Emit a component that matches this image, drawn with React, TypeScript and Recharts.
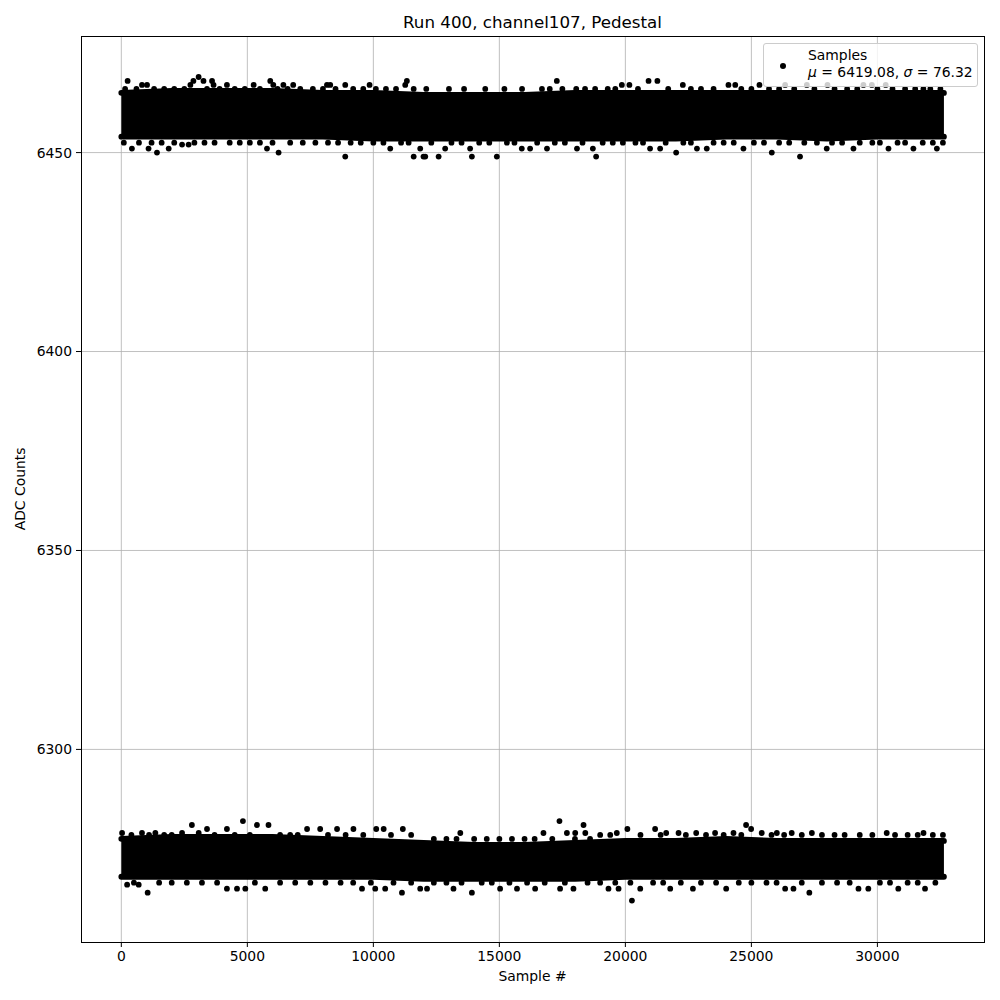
import { ComposedChart, Area, Scatter, XAxis, YAxis, CartesianGrid } from 'recharts';

// band extents, per 2000 samples
const binX = [0, 2000, 4000, 6000, 8000, 10000, 12000, 14000, 16000, 18000, 20000, 22000, 24000, 26000, 28000, 30000, 32000, 32640];
const upperHi = [6465, 6465.5, 6465.5, 6465.5, 6465, 6465, 6464.5, 6464.5, 6464.5, 6465, 6465, 6465, 6465, 6465, 6465, 6465, 6465, 6465];
const upperLo = [6454, 6454, 6454, 6454, 6454, 6453.5, 6453.5, 6453.5, 6453.5, 6453.5, 6453.5, 6453.5, 6454, 6454, 6453.5, 6454, 6454, 6454];
const lowerHi = [6277.5, 6278, 6278, 6278, 6277.5, 6277, 6276.5, 6276, 6276, 6276.5, 6277, 6277, 6277.5, 6277, 6277, 6277, 6277, 6277];
const lowerLo = [6268, 6268, 6268, 6268, 6268, 6268, 6267.5, 6267.5, 6267.5, 6267.5, 6268, 6268, 6268, 6268, 6268, 6268, 6268, 6268];

// isolated samples outside the dense bands
const upperStrays = [
  [250, 6468], [820, 6467], [1020, 6467], [2740, 6467], [2860, 6468], [3067, 6469], [3260, 6468], [3600, 6468],
  [3660, 6467], [4190, 6467], [5250, 6467], [5910, 6468], [6030, 6467], [6430, 6467], [6820, 6467], [8160, 6467],
  [8290, 6467], [8885, 6467], [9850, 6467], [11265, 6467], [11330, 6468], [14440, 6466], [16690, 6466], [17280, 6468],
  [18050, 6466], [19860, 6467], [20160, 6467], [20920, 6468], [21270, 6468], [22280, 6467], [24090, 6467], [24360, 6467],
  [25320, 6467], [26340, 6467], [27200, 6467], [28020, 6467], [29445, 6467], [29780, 6467], [30330, 6467], [31825, 6466],
  [420, 6451], [1080, 6451], [1415, 6450], [1880, 6451], [2410, 6452], [2670, 6452], [5780, 6451], [6240, 6450],
  [8885, 6449], [10670, 6451], [11600, 6449], [11860, 6451], [11990, 6449], [12060, 6449], [12590, 6449], [12850, 6451],
  [13840, 6451], [13910, 6449], [14900, 6449], [15890, 6451], [16220, 6451], [16890, 6451], [18080, 6451], [18710, 6451],
  [18840, 6449], [20980, 6451], [21380, 6451], [22015, 6450], [22840, 6451], [23230, 6451], [24685, 6451], [25810, 6450],
  [26930, 6449], [27990, 6451], [29050, 6451], [30440, 6451], [31430, 6451], [32360, 6451],
];
const lowerStrays = [
  [30, 6279], [820, 6279], [1350, 6279], [2410, 6279], [2800, 6281], [3070, 6279], [3400, 6280], [4190, 6280],
  [4825, 6282], [5380, 6281], [5840, 6281], [7370, 6280], [7890, 6280], [8560, 6280], [9210, 6280], [10115, 6280],
  [10410, 6280], [11170, 6280], [13450, 6279], [16750, 6279], [17385, 6282], [17680, 6279], [18010, 6279], [18340, 6281],
  [18410, 6279], [19660, 6279], [20080, 6280], [21180, 6280], [21620, 6279], [22110, 6279], [22810, 6279], [23560, 6279],
  [24290, 6279], [24790, 6281], [24990, 6280], [25410, 6279], [26010, 6279], [26600, 6279], [27400, 6279], [30370, 6279],
  [31830, 6279],
  [230, 6266], [690, 6266], [1045, 6264], [4190, 6265], [4590, 6265], [4920, 6265], [5710, 6265], [9550, 6265],
  [10075, 6265], [10470, 6265], [11135, 6264], [11860, 6265], [12130, 6265], [13180, 6265], [13910, 6264], [15030, 6265],
  [15700, 6265], [16420, 6265], [17410, 6265], [17940, 6265], [19330, 6265], [19730, 6265], [20260, 6262], [20590, 6265],
  [21780, 6265], [22680, 6265], [24000, 6265], [26340, 6265], [26670, 6265], [27300, 6264], [29250, 6265], [29640, 6265],
  [30830, 6265], [31890, 6265],
];

// samples sitting one count outside the solid part of each band (ragged edges)
const upperTopEdge = [150, 600, 1300, 1700, 2100, 2500, 3400, 3900, 4500, 4900, 5500, 6200, 6600, 7100, 7600, 8000, 8500, 9200, 9600, 10100, 10500, 10900, 11600, 12100, 13000, 13600, 15200, 15900, 17000, 17500, 18400, 18800, 19300, 19600, 20500, 21700, 22600, 23000, 23500, 24600, 25000, 25700, 26100, 26700, 27500, 28300, 28800, 29200, 30000, 30600, 31100, 31500, 32100, 32500];
const upperBottomEdge = [100, 700, 1200, 1600, 2100, 2900, 3300, 3700, 4300, 4700, 5100, 5500, 6000, 6700, 7200, 7700, 8200, 8600, 9100, 9500, 10000, 10400, 11100, 11400, 12300, 13100, 13500, 14200, 14600, 15300, 15600, 16500, 17200, 17600, 18300, 19100, 19500, 19900, 20400, 20700, 21600, 22300, 22600, 23500, 23900, 24300, 25100, 25500, 26100, 26500, 27100, 27600, 28200, 28600, 29300, 29800, 30100, 30800, 31100, 31800, 32200, 32600];
const lowerTopEdge = [400, 1100, 1700, 2000, 3700, 4500, 5100, 6300, 6700, 7000, 8200, 8900, 9600, 10700, 11500, 19000, 19400, 20600, 21400, 22400, 23200, 23900, 24600, 25800, 26300, 27000, 27800, 28300, 28700, 29300, 29800, 30700, 31200, 31600, 32200, 32600];
const lowerMidTopEdge = [12400, 12900, 13300, 14000, 14500, 15000, 15500, 16000, 16400, 17100, 18000, 18600];
const lowerBottomEdge = [500, 1500, 2000, 2600, 3200, 3800, 5300, 6300, 6900, 7500, 8100, 8700, 9200, 9900, 10800, 11500, 12400, 12900, 13500, 14300, 14700, 15400, 16100, 16800, 17600, 18500, 19000, 19600, 20200, 21100, 21500, 22200, 23000, 23600, 24500, 25000, 25600, 26000, 27000, 27800, 28400, 28900, 30100, 30500, 31200, 31600, 32300];

const xTicks = [0, 5000, 10000, 15000, 20000, 25000, 30000];
const yTicks = [6300, 6350, 6400, 6450];

const bands = binX.map((x, i) => ({
  x,
  upper: [upperLo[i], upperHi[i]],
  lower: [lowerLo[i], lowerHi[i]],
}));
const strays = [
  ...upperStrays,
  ...lowerStrays,
  ...upperTopEdge.map((x) => [x, 6466]),
  ...upperBottomEdge.map((x) => [x, 6452.5]),
  ...lowerTopEdge.map((x) => [x, 6278.5]),
  ...lowerMidTopEdge.map((x) => [x, 6277.5]),
  ...lowerBottomEdge.map((x) => [x, 6266.5]),
].map(([x, y]) => ({ x, y }));

const font = '"DejaVu Sans", sans-serif';
const tick = { fill: '#000', fontSize: 13.9, fontFamily: font };

const Dot = (props: any) => <circle cx={props.cx} cy={props.cy} r={2.9} fill="#000" />;

export default function App() {
  return (
    <div style={{ position: 'absolute', left: 0, top: 0, width: 1000, height: 1000, background: '#fff', fontFamily: font }}>
      <ComposedChart width={1000} height={1000} data={bands} margin={{ top: 36, right: 16, bottom: 0, left: 0 }}>
        <CartesianGrid stroke="#b0b0b0" strokeWidth={0.8} horizontalValues={yTicks} verticalValues={xTicks} />
        <XAxis
          dataKey="x"
          type="number"
          domain={[-1600, 34230]}
          ticks={xTicks}
          allowDataOverflow
          height={58}
          tick={tick}
          tickSize={5}
          tickMargin={4}
          axisLine={false}
          tickLine={{ stroke: '#000' }}
          interval={0}
        />
        <YAxis
          type="number"
          domain={[6251.6, 6479.3]}
          ticks={yTicks}
          allowDataOverflow
          width={81}
          tick={tick}
          tickSize={5}
          tickMargin={4}
          axisLine={false}
          tickLine={{ stroke: '#000' }}
          interval={0}
        />
        <Area dataKey="upper" type="linear" fill="#000" fillOpacity={1} stroke="#000" strokeWidth={5.8} strokeLinecap="round" strokeLinejoin="round" isAnimationActive={false} />
        <Area dataKey="lower" type="linear" fill="#000" fillOpacity={1} stroke="#000" strokeWidth={5.8} strokeLinecap="round" strokeLinejoin="round" isAnimationActive={false} />
        <Scatter data={strays} dataKey="y" shape={Dot} isAnimationActive={false} />
      </ComposedChart>

      {/* axes frame (matplotlib draws all four spines) */}
      <div style={{ position: 'absolute', left: 80.5, top: 35.5, width: 902, height: 905, border: '1px solid #000', pointerEvents: 'none' }} />

      <div style={{ position: 'absolute', left: 81, top: 13.5, width: 903, textAlign: 'center', fontSize: 16.7, lineHeight: 1 }}>
        Run 400, channel107, Pedestal
      </div>
      <div style={{ position: 'absolute', left: 81, top: 970, width: 903, textAlign: 'center', fontSize: 13.9, lineHeight: 1 }}>
        Sample #
      </div>
      <div style={{ position: 'absolute', left: 21 - 100, top: 489 - 7, width: 200, textAlign: 'center', fontSize: 13.9, lineHeight: 1, transform: 'rotate(-90deg)' }}>
        ADC Counts
      </div>

      <div style={{ position: 'absolute', left: 763, top: 43, width: 213, height: 42, border: '1px solid #cccccc', borderRadius: 3, background: 'rgba(255,255,255,0.8)' }}>
        <div style={{ position: 'absolute', left: 16, top: 19, width: 6, height: 6, borderRadius: 3, background: '#000' }} />
        <div style={{ position: 'absolute', left: 44, top: 3, fontSize: 13.9, lineHeight: '16.7px', whiteSpace: 'nowrap' }}>
          <div>Samples</div>
          <div><i>μ</i> = 6419.08, <i>σ</i> = 76.32</div>
        </div>
      </div>
    </div>
  );
}
